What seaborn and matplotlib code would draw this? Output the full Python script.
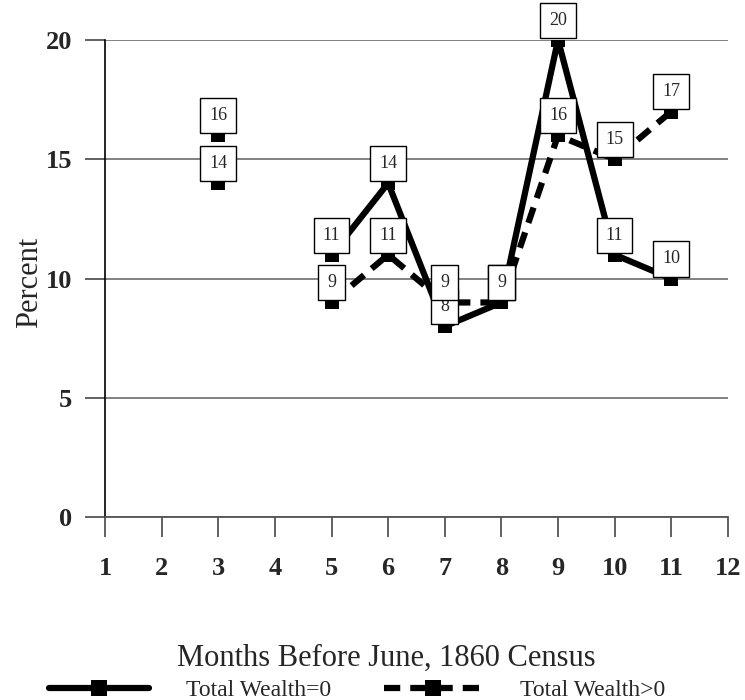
import matplotlib
matplotlib.use('Agg')
import matplotlib.pyplot as plt
import numpy as np
import pandas as pd
import seaborn as sns

# months before the census, and percent for each wealth group (month 4 has no data)
months = [3, 5, 6, 7, 8, 9, 10, 11]
segment = [0, 1, 1, 1, 1, 1, 1, 1]
wealth_zero = [14, 11, 14, 8, 9, 20, 11, 10]
wealth_pos = [16, 9, 11, 9, 9, 16, 15, 17]
series_names = ['Total Wealth=0', 'Total Wealth>0']
x_ticks = list(range(1, 13))
y_ticks = [0, 5, 10, 15, 20]

sns.set_style('white')
plt.rcParams['font.family'] = ['Liberation Serif', 'DejaVu Serif']

df = pd.DataFrame({'month': months, 'seg': segment,
                   'zero': wealth_zero, 'pos': wealth_pos})

fig = plt.figure(figsize=(7.45, 7.0), dpi=100)
ax = fig.add_axes([0.141, 0.261, 0.836, 0.682])

styles = [('zero', '-', series_names[0]), ('pos', (0, (2.6, 1.6)), series_names[1])]
for col, ls, name in styles:
    sns.lineplot(data=df, x='month', y=col, units='seg', estimator=None,
                 sort=False, color='black', linewidth=4.5, linestyle=ls,
                 marker='s', markersize=10, markeredgewidth=0,
                 ax=ax, zorder=2, legend=False)
    for xv, yv in zip(df['month'], df[col]):
        ax.annotate(str(yv), (xv, yv), xytext=(0, 8), textcoords='offset points',
                    ha='center', va='bottom', fontsize=13, zorder=4,
                    annotation_clip=False,
                    bbox=dict(boxstyle='square,pad=0.5', fc='white', ec='black', lw=1))

ax.set_xlim(1, 12)
ax.set_ylim(0, 20)
ax.set_xticks(x_ticks)
ax.set_yticks(y_ticks)
ax.tick_params(axis='both', direction='out', length=14.5, width=1.3, color='#555555',
               labelsize=19, bottom=True, left=True)
ax.tick_params(axis='x', pad=14)
ax.tick_params(axis='y', pad=9)
for lab in ax.get_xticklabels() + ax.get_yticklabels():
    lab.set_fontweight('bold')
ax.yaxis.grid(True, color='#777777', linewidth=1.3)
ax.xaxis.grid(False)
sns.despine(ax=ax, top=True, right=True)
ax.spines['left'].set_color('black')
ax.spines['left'].set_linewidth(1.2)
ax.spines['bottom'].set_color('#555555')
ax.spines['bottom'].set_linewidth(1.3)
ax.set_xlabel('')
ax.set_ylabel('')

fig.text(0.518, 1 - 658 / 700, 'Months Before June, 1860 Census', ha='center', va='center',
         fontsize=22)
fig.text(0.04, 1 - 282 / 700, 'Percent', ha='center', va='center', rotation=90,
         fontsize=22)

handles = [plt.Line2D([], [], color='black', lw=4.5, ls=ls, marker='s', markersize=12,
                      markeredgewidth=0) for _, ls, _ in styles]
fig.legend(handles, series_names, loc='center', bbox_to_anchor=(0.48, 1 - 690 / 700),
           ncol=2, frameon=False, handlelength=4.2, handletextpad=1.6,
           columnspacing=2.2, fontsize=17)

fig.savefig('out.png', dpi=100)
